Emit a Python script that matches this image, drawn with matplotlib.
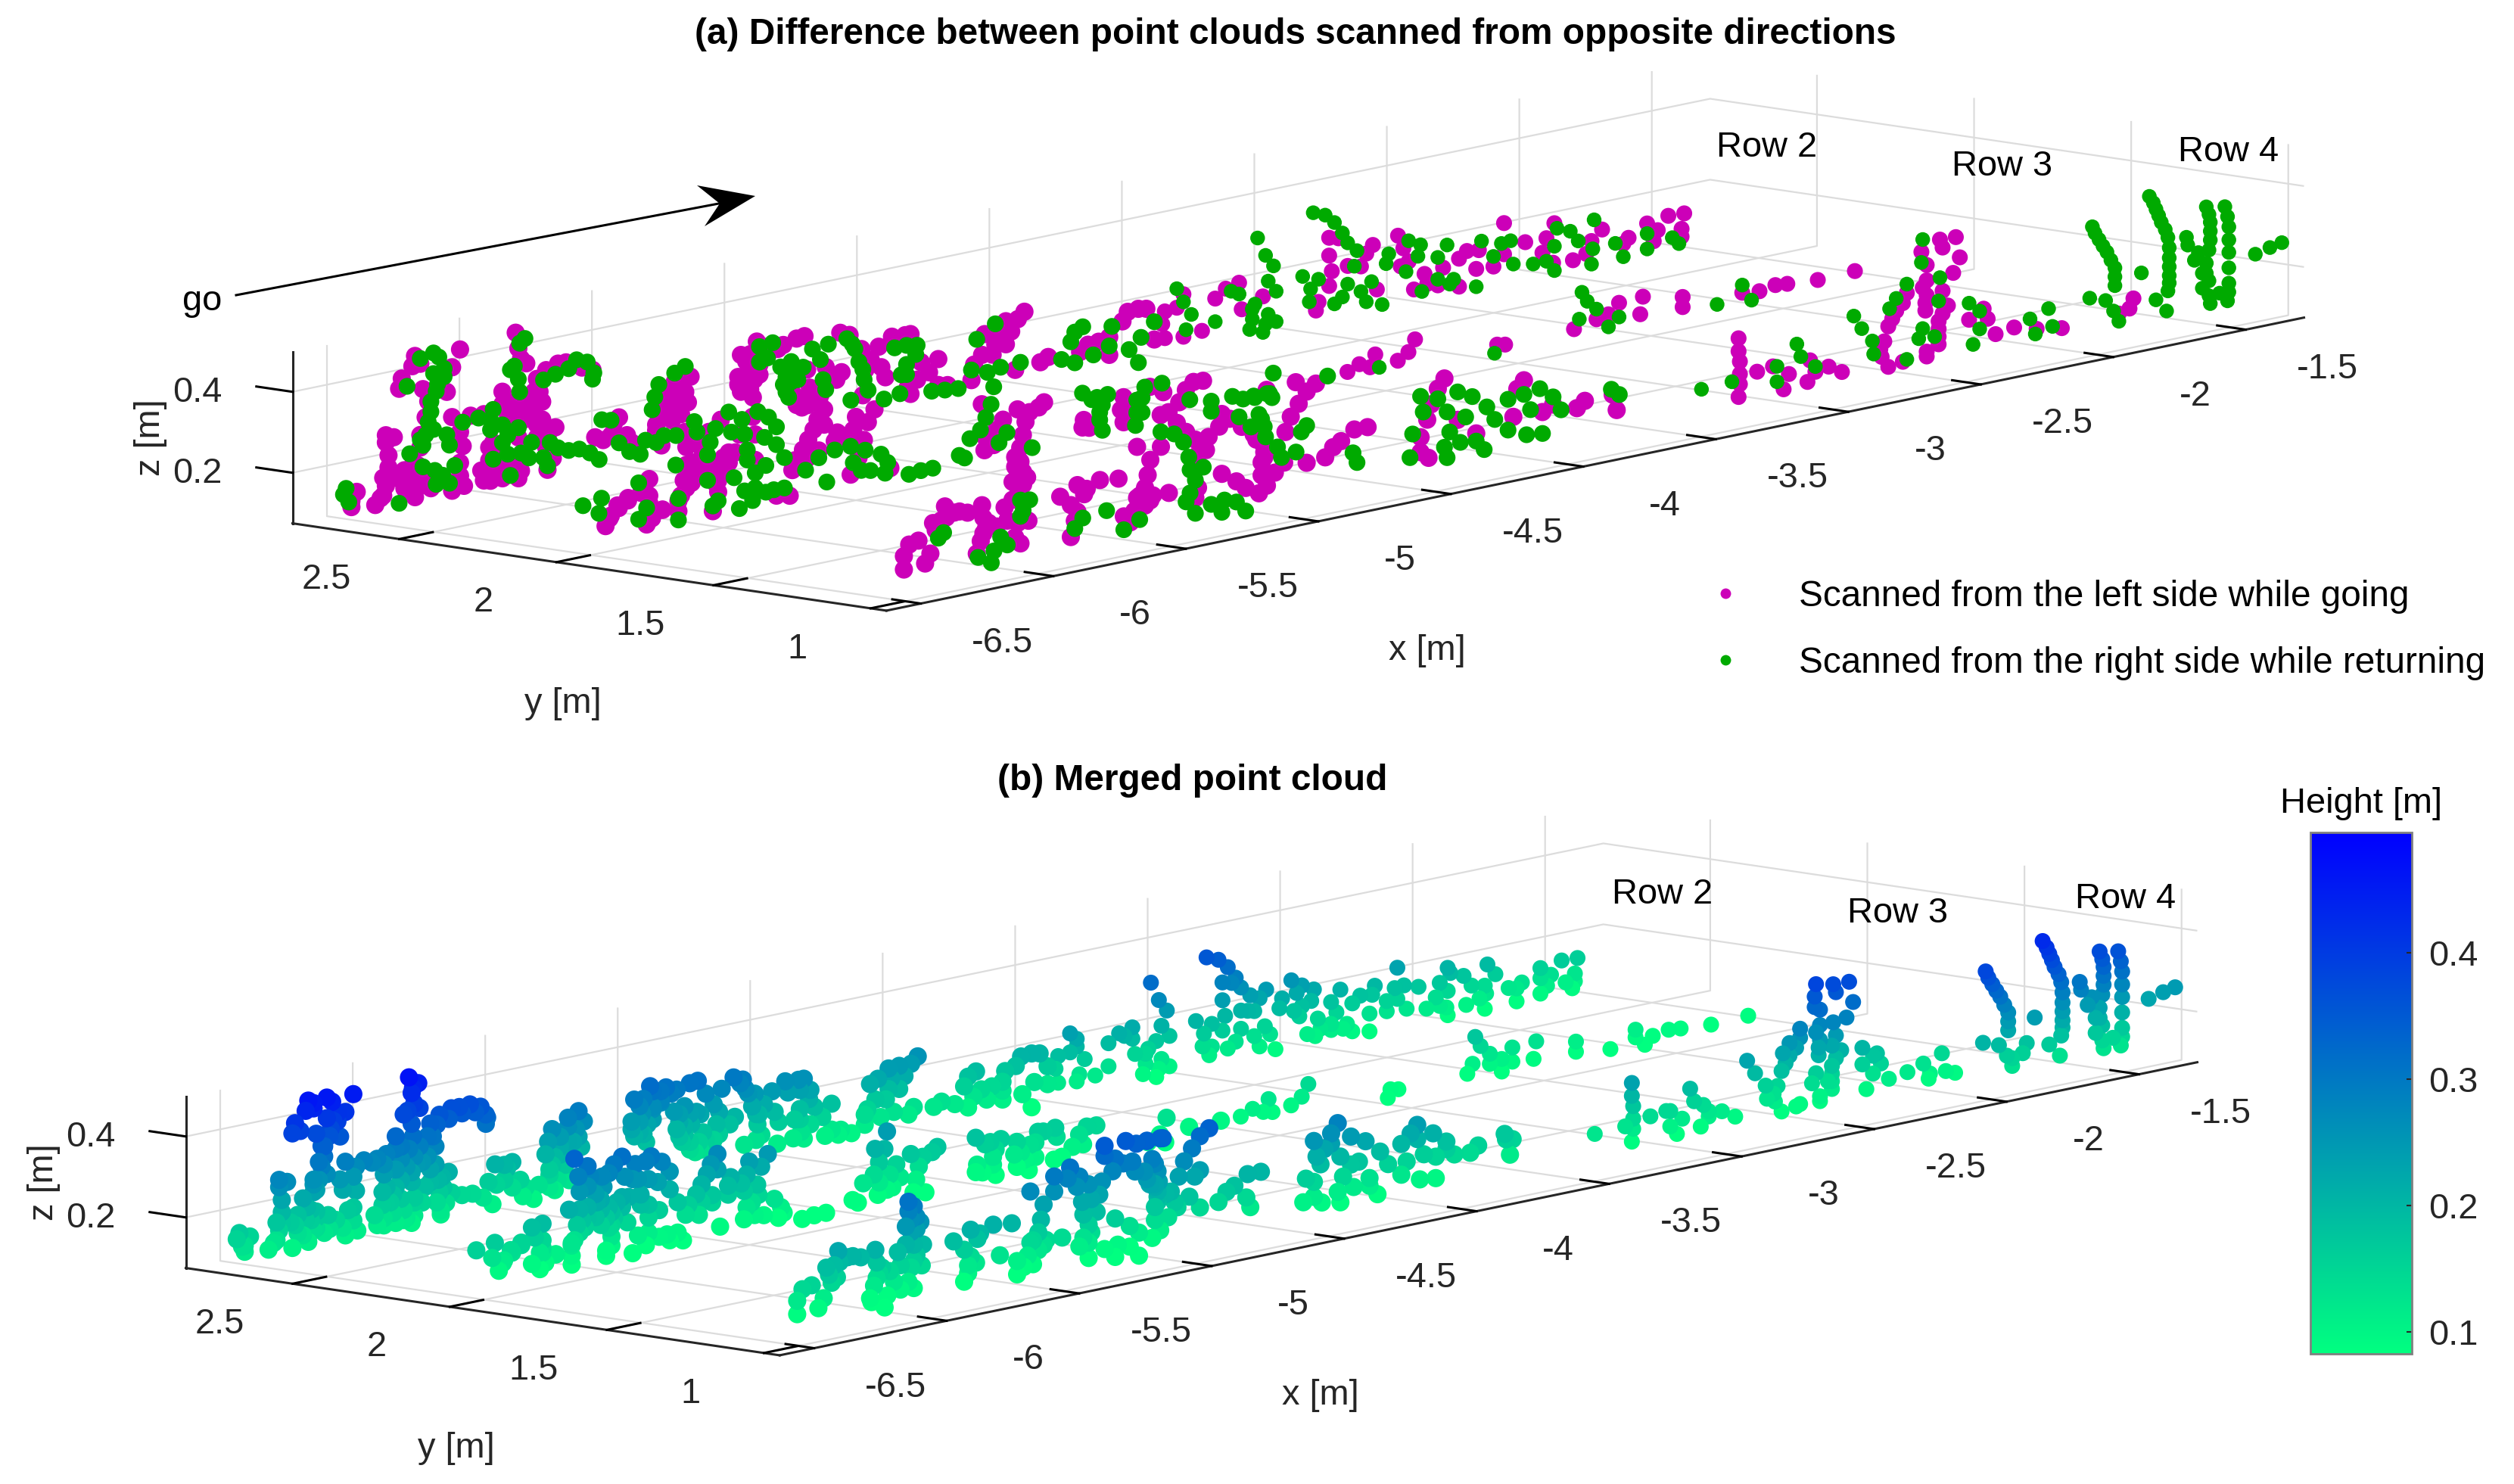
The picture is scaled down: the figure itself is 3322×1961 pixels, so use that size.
#!/usr/bin/env python3
"""Point clouds of three crop rows scanned from opposite directions, and merged."""

import matplotlib
matplotlib.use("Agg")
import matplotlib.pyplot as plt
import numpy as np
from matplotlib.lines import Line2D
from matplotlib.patches import Polygon

plt.rcParams["font.family"] = ["Liberation Sans", "DejaVu Sans"]

W, H = 3322, 1961
FS = 33.8
MAGENTA = "#cc00b8"
GREEN = "#00aa00"
DARK = "#262626"

# crop row positions along y [m]
row2_y = 2.72
row3_y = 2.16
row4_y = 1.24
row4_far_y = 1.05

# (x, z) of points, per crop row and scan direction
left_row2 = [
    (-6.55, .133), (-6.55, .118), (-6.53, .153), (-6.46, .111), (-6.43, .130), (-6.42, .153), (-6.43, .174),
    (-6.41, .197), (-6.41, .227), (-6.42, .260), (-6.42, .278), (-6.39, .269), (-6.36, .158), (-6.33, .129),
    (-6.32, .166), (-6.315, .196), (-6.29, .136), (-6.31, .110), (-6.25, .124), (-6.28, .165), (-6.29, .230),
    (-6.29, .261), (-6.27, .302), (-6.26, .340), (-6.28, .373), (-6.32, .435), (-6.29, .437), (-6.31, .459),
    (-6.36, .410), (-6.37, .386), (-6.17, .412), (-6.19, .354), (-6.14, .452), (-6.17, .289), (-6.14, .248),
    (-6.13, .212), (-6.14, .172), (-6.14, .140), (-6.125, .113), (-6.17, .107), (-6.10, .283), (-6.05, .280),
    (-5.93, .465), (-5.92, .425), (-5.91, .398), (-5.89, .384), (-5.98, .326), (-5.98, .295), (-5.96, .267),
    (-5.93, .288), (-5.89, .289), (-5.86, .310), (-5.86, .260), (-5.83, .281), (-5.90, .246), (-5.85, .227),
    (-5.82, .197), (-5.78, .211), (-5.815, .166), (-5.79, .136), (-5.81, .110), (-5.85, .340), (-5.815, .357),
    (-5.77, .367), (-5.74, .366), (-5.68, .345), (-5.64, .334), (-6.015, .205), (-5.99, .183), (-6.03, .163),
    (-6.05, .116), (-5.99, .138), (-6.025, .130), (-5.95, .140), (-5.92, .104), (-5.91, .153), (-5.92, .205),
    (-5.63, .166), (-5.60, .155), (-5.57, .163), (-5.54, .203), (-5.56, .190), (-5.51, .155), (-5.49, .133),
    (-5.33, .262), (-5.27, .267), (-5.29, .232), (-5.33, .224), (-5.28, .205), (-5.36, .197), (-5.31, .191),
    (-5.39, .175), (-5.34, .169), (-5.40, .152), (-5.38, .112),
    (-5.08, .295), (-5.045, .292), (-5.02, .320), (-4.98, .302), (-4.92, .298), (-4.87, .307), (-4.84, .309),
    (-5.09, .242), (-5.05, .256), (-5.01, .262), (-5.06, .213), (-5.08, .204), (-5.03, .227), (-5.035, .184),
    (-4.87, .162), (-4.835, .157), (-4.85, .134), (-4.81, .159), (-4.78, .130), (-4.83, .225), (-4.76, .222),
    (-4.72, .185), (-4.70, .201), (-4.705, .299), (-4.67, .289), (-4.625, .248), (-4.61, .195), (-4.55, .193),
    (-4.535, .166), (-4.59, .217), (-4.56, .245), (-4.51, .263), (-4.46, .260), (-4.44, .260), (-4.62, .133),
    (-4.40, .185), (-4.37, .156), (-4.415, .144), (-4.44, .112), (-4.45, .130), (-4.335, .184), (-4.335, .120),
    (-4.30, .115),
    (-4.01, .257), (-4.035, .242), (-4.08, .243), (-4.06, .215), (-4.11, .216), (-4.16, .222), (-4.12, .191),
    (-4.08, .186), (-4.17, .172), (-4.13, .167), (-4.20, .152), (-4.21, .115), (-4.045, .118), (-3.95, .124),
    (-3.92, .133), (-3.77, .143), (-3.80, .129), (-3.69, .107), (-3.69, .151), (-3.73, .145), (-3.64, .183),
    (-3.62, .204), (-3.58, .206), (-3.55, .202), (-3.48, .186), (-3.49, .156), (-3.435, .189), (-3.52, .122),
    (-3.48, .120), (-3.41, .219), (-3.41, .114), (-3.34, .119), (-3.29, .192), (-3.25, .211), (-3.20, .219),
    (-3.11, .173), (-3.19, .152),
    (-2.86, .284), (-2.86, .240), (-2.85, .200), (-2.86, .165), (-2.90, .131), (-2.91, .111), (-2.79, .205),
    (-2.72, .226), (-2.695, .244), (-2.74, .197), (-2.825, .278), (-2.68, .132), (-2.60, .254), (-2.58, .220),
    (-2.56, .185), (-2.59, .177), (-2.50, .146), (-2.54, .113), (-2.49, .120), (-2.43, .152), (-2.37, .166),
    (-2.34, .181), (-2.295, .177), (-2.305, .132), (-2.45, .111), (-2.37, .097), (-2.20, .231), (-2.20, .154),
    (-2.24, .129), (-2.12, .173), (-2.04, .172), (-2.01, .205), (-2.055, .138), (-2.015, .108), (-1.94, .104),
    (-1.89, .113), (-1.87, .142), (-1.83, .165), (-1.75, .119), (-1.73, .131), (-1.66, .157), (-1.62, .135),
    (-1.635, .110), (-1.58, .165), (-1.52, .163), (-1.53, .126), (-1.53, .107),
    (-6.44, .125), (-6.41, .170), (-6.377, .167), (-6.35, .182), (-6.35, .137), (-6.30, .162), (-6.30, .188),
    (-6.28, .140), (-6.235, .132), (-5.96, .298), (-5.91, .266), (-5.94, .245), (-5.88, .249), (-5.83, .237),
    (-5.805, .202), (-5.85, .195), (-5.84, .307), (-6.03, .195), (-6.00, .166), (-6.06, .142), (-6.025, .112),
    (-5.98, .112), (-5.94, .119), (-5.91, .121), (-5.36, .241), (-5.30, .252), (-5.31, .222), (-5.36, .216),
    (-5.38, .194), (-5.40, .166), (-5.06, .276), (-5.06, .238), (-5.09, .223), (-5.045, .205), (-5.01, .237),
    (-4.98, .280), (-4.94, .291), (-4.89, .184), (-4.82, .179), (-4.87, .143), (-4.83, .137), (-4.78, .155),
]
right_row2 = [
    (-6.58, .153), (-6.57, .167), (-6.56, .132), (-6.37, .103), (-6.34, .388), (-6.24, .457), (-6.29, .450),
    (-6.22, .444), (-6.215, .396), (-6.20, .393), (-6.23, .361), (-6.225, .378), (-6.26, .289), (-6.27, .258),
    (-6.28, .234), (-6.24, .268), (-6.33, .220), (-6.28, .181), (-6.19, .248), (-6.18, .221), (-6.235, .166),
    (-6.205, .150), (-6.18, .127), (-6.16, .168), (-6.23, .131), (-6.13, .271), (-6.07, .273), (-6.025, .263),
    (-6.015, .287), (-5.98, .244), (-5.96, .216), (-5.92, .229), (-5.98, .200), (-6.025, .238), (-6.015, .164),
    (-5.96, .169), (-5.95, .115), (-5.91, .165), (-5.88, .149), (-5.87, .186), (-5.825, .142), (-5.81, .120),
    (-5.80, .176), (-5.77, .159), (-5.915, .437), (-5.895, .446), (-5.935, .383), (-5.95, .376), (-5.92, .349),
    (-5.915, .317), (-5.825, .334), (-5.78, .342), (-5.73, .349), (-5.70, .367), (-5.66, .356), (-5.635, .326),
    (-5.64, .311), (-5.73, .147), (-5.69, .145), (-5.65, .130), (-5.615, .109), (-5.605, .206), (-5.57, .200),
    (-5.54, .140), (-5.50, .113), (-5.46, .101), (-5.29, .295), (-5.33, .284), (-5.39, .264), (-5.405, .235),
    (-5.415, .205), (-5.44, .133), (-5.40, .122), (-5.37, .135), (-5.325, .129),
    (-4.98, .274), (-5.01, .268), (-4.96, .309), (-5.01, .306), (-4.93, .245), (-4.89, .253), (-4.845, .233),
    (-4.91, .217), (-4.865, .205), (-4.91, .180), (-4.81, .273), (-4.78, .243), (-4.77, .192), (-4.76, .166),
    (-4.75, .277), (-4.68, .281), (-4.65, .252), (-4.635, .218), (-4.615, .171), (-4.60, .143), (-4.665, .127),
    (-4.50, .234), (-4.455, .234), (-4.415, .229), (-4.42, .207), (-4.455, .187), (-4.475, .164), (-4.48, .118),
    (-4.54, .113), (-4.36, .108), (-4.31, .104), (-4.26, .101),
    (-4.19, .213), (-4.12, .242), (-4.21, .140), (-4.15, .126), (-4.10, .132), (-4.025, .134), (-3.82, .181),
    (-3.79, .190), (-3.835, .159), (-3.87, .120), (-3.82, .105), (-3.75, .115), (-3.69, .129), (-3.615, .110),
    (-3.58, .073), (-3.68, .176), (-3.57, .134), (-3.52, .166), (-3.435, .236), (-3.41, .200), (-3.38, .165),
    (-3.40, .130), (-3.29, .135), (-3.20, .191), (-3.15, .147), (-3.10, .103), (-3.23, .202), (-3.06, .179),
    (-3.13, .320), (-3.10, .273), (-3.07, .243), (-3.09, .208), (-3.14, .158), (-3.09, .126),
    (-3.06, .104), (-3.11, .084), (-3.15, .122), (-3.16, .098), (-2.92, .354), (-2.875, .342), (-2.84, .319),
    (-2.81, .289), (-2.79, .262), (-2.96, .202), (-2.93, .167), (-2.935, .136), (-2.90, .187), (-2.755, .238),
    (-2.765, .201), (-2.79, .160), (-2.81, .131), (-2.84, .118), (-2.74, .135), (-2.70, .154), (-2.72, .107),
    (-2.66, .092), (-2.645, .191), (-2.635, .214), (-2.56, .236), (-2.525, .193), (-2.515, .220), (-2.57, .161),
    (-2.51, .104), (-2.45, .126), (-2.39, .118), (-2.405, .108), (-2.305, .088), (-2.415, .206), (-2.45, .180),
    (-2.285, .198), (-2.24, .154), (-2.21, .182), (-2.175, .184), (-2.165, .125), (-2.09, .115), (-2.00, .191),
    (-2.01, .148), (-2.04, .115), (-2.01, .088), (-1.95, .177), (-1.92, .149), (-1.86, .193), (-1.865, .122),
    (-1.87, .085), (-1.78, .124), (-1.75, .087), (-1.66, .132), (-1.66, .094), (-1.565, .109), (-1.54, .091),
    (-6.24, .406), (-6.20, .413), (-6.25, .338), (-6.25, .313), (-6.29, .249), (-4.91, .236), (-4.87, .231),
    (-4.89, .203), (-4.92, .200), (-4.90, .166), (-4.66, .265), (-4.62, .197), (-4.455, .162),
]
left_row3 = [
    (-6.255, .095), (-6.235, .118), (-6.205, .133), (-6.17, .147), (-6.12, .159), (-6.09, .148), (-6.09, .117),
    (-6.08, .091), (-6.10, .078), (-6.04, .107), (-6.09, .189),
    (-5.98, .095), (-5.98, .120), (-5.95, .148), (-5.94, .178), (-5.93, .208), (-5.95, .249), (-5.955, .287),
    (-5.97, .333), (-5.89, .178), (-5.885, .214), (-5.865, .275), (-5.83, .182), (-5.83, .150), (-5.83, .122),
    (-5.79, .189), (-5.765, .211), (-5.85, .077), (-6.04, .106), (-5.82, .299), (-5.70, .290), (-5.69, .245),
    (-5.69, .182), (-5.75, .253), (-5.56, .076), (-5.61, .083), (-5.55, .138), (-5.54, .161), (-5.51, .183),
    (-5.49, .205), (-5.47, .227), (-5.455, .250), (-5.43, .272), (-5.43, .234), (-5.49, .161), (-5.45, .173),
    (-5.39, .188), (-5.34, .187), (-5.28, .176), (-5.38, .208), (-5.32, .206), (-5.31, .237), (-5.265, .218),
    (-5.24, .246), (-5.30, .135), (-5.33, .097), (-5.18, .093),
    (-4.825, .089), (-4.82, .119), (-4.78, .133), (-4.755, .155), (-4.835, .204), (-4.79, .097), (-4.69, .077),
    (-4.68, .107), (-4.67, .138), (-4.70, .173), (-4.655, .160), (-4.62, .167), (-4.60, .177), (-4.455, .095),
    (-4.43, .091), (-4.45, .113), (-4.30, .149), (-4.30, .087), (-4.285, .121), (-4.15, .141), (-4.16, .086),
    (-4.13, .089), (-4.09, .108), (-4.065, .135), (-4.036, .151), (-4.00, .149), (-4.20, .161),
    (-3.455, .097), (-3.41, .110), (-3.37, .097), (-3.35, .126), (-3.265, .099), (-3.225, .115), (-3.20, .143),
    (-3.65, .098), (-3.76, .094), (-2.89, .088), (-2.86, .084), (-2.60, .087), (-2.515, .100), (-2.47, .106),
    (-2.43, .129), (-2.34, .132), (-2.35, .090), (-2.19, .111), (-2.19, .086), (-1.965, .091), (-1.90, .086),
    (-1.84, .093), (-1.795, .090), (-1.68, .084), (-1.54, .087),
    (-5.95, .205), (-5.92, .207), (-5.92, .182), (-5.96, .168), (-5.93, .158), (-5.97, .132), (-5.87, .194),
    (-5.84, .196), (-5.81, .204), (-5.79, .214), (-5.82, .167), (-5.85, .171), (-5.84, .145), (-5.92, .258),
    (-5.89, .235), (-6.24, .112), (-6.21, .140), (-6.17, .153), (-6.12, .159), (-6.09, .130), (-6.08, .091),
    (-4.31, .119), (-4.27, .101),
]
right_row3 = [
    (-6.34, .157), (-6.27, .166), (-6.28, .130), (-6.13, .185), (-6.10, .119), (-6.13, .095),
    (-5.99, .210), (-5.98, .126), (-5.98, .073), (-5.87, .219), (-5.86, .249), (-5.92, .308), (-5.91, .281),
    (-5.84, .280), (-5.79, .314), (-5.74, .289), (-5.78, .263), (-5.73, .251), (-5.72, .211), (-5.72, .186),
    (-5.68, .300), (-5.64, .281), (-5.61, .253), (-5.655, .233), (-5.61, .209), (-5.58, .173), (-5.69, .150),
    (-5.69, .113), (-5.65, .163), (-5.77, .149), (-5.73, .111), (-5.70, .083), (-5.75, .070), (-5.87, .156),
    (-5.83, .100), (-5.85, .090), (-5.62, .099), (-5.58, .098), (-5.65, .097), (-5.42, .091), (-5.50, .131),
    (-5.45, .155), (-5.39, .166), (-5.33, .167), (-5.275, .150), (-5.215, .132), (-5.19, .108), (-5.20, .083),
    (-5.32, .125), (-5.29, .102), (-5.255, .097), (-5.11, .068), (-5.065, .071), (-5.02, .071), (-4.92, .089),
    (-4.84, .141), (-4.82, .169), (-4.80, .199), (-4.79, .241), (-4.88, .125), (-4.90, .080), (-4.77, .100),
    (-4.74, .121), (-4.645, .071), (-4.455, .180), (-4.40, .162), (-4.39, .124), (-4.38, .078), (-4.36, .164),
    (-4.25, .135), (-4.255, .073), (-4.23, .102), (-4.22, .163), (-4.155, .164), (-4.05, .109),
    (-3.735, .132), (-3.805, .081), (-3.74, .072), (-3.53, .097), (-3.335, .092), (-2.90, .068), (-2.57, .174),
    (-2.55, .149), (-2.515, .125), (-2.58, .109), (-2.47, .075), (-2.43, .094), (-2.06, .075), (-1.965, .110),
    (-1.93, .068),
    (-4.42, .159), (-4.38, .141), (-4.39, .105), (-4.25, .104), (-4.23, .138),
]
left_row4 = [
    (-6.22, .088), (-6.22, .121), (-6.20, .147), (-6.165, .152), (-6.14, .092), (-6.12, .114), (-6.10, .169),
    (-6.08, .190), (-6.065, .223), (-6.03, .203), (-5.98, .196), (-5.925, .207), (-5.92, .175), (-5.91, .148),
    (-5.93, .119), (-5.945, .090), (-5.87, .147), (-5.83, .156), (-5.84, .190), (-5.81, .205), (-5.79, .145),
    (-5.75, .145), (-5.79, .233), (-5.79, .264), (-5.78, .295), (-5.80, .309), (-5.755, .253), (-5.80, .111),
    (-5.78, .093), (-5.565, .208), (-5.53, .194), (-5.48, .209), (-5.41, .203), (-5.54, .182), (-5.63, .188),
    (-5.59, .162), (-5.565, .142), (-5.575, .121), (-5.59, .083), (-5.34, .272), (-5.25, .260), (-5.29, .233),
    (-5.30, .197), (-5.31, .167), (-5.34, .146), (-5.29, .133), (-5.35, .115), (-5.39, .107), (-5.365, .089),
    (-5.22, .142), (-5.19, .311), (-5.155, .284), (-5.12, .260), (-5.11, .222), (-5.11, .190), (-5.11, .140),
    (-5.12, .116), (-5.08, .229), (-5.07, .260), (-5.03, .280), (-4.99, .294), (-5.02, .310), (-4.945, .268),
    (-4.90, .243), (-4.87, .220), (-4.86, .181), (-4.83, .196), (-5.02, .162), (-4.965, .136), (-4.93, .115),
    (-4.88, .095), (-4.85, .110), (-4.87, .138), (-4.82, .138),
    (-4.87, .227), (-4.86, .194), (-4.87, .170), (-4.78, .233), (-4.76, .268), (-4.73, .296), (-4.70, .322),
    (-4.665, .337), (-4.785, .158), (-4.70, .146), (-4.63, .150), (-4.60, .171), (-4.57, .182), (-4.52, .204),
    (-4.47, .203), (-4.27, .114), (-4.27, .151), (-4.245, .191), (-4.23, .227), (-4.205, .262), (-4.18, .284),
    (-4.24, .096), (-4.13, .175), (-4.06, .132), (-3.92, .154), (-3.905, .221), (-3.88, .239), (-3.81, .151),
    (-3.77, .164), (-3.68, .143), (-3.65, .157), (-3.545, .158), (-3.53, .118),
    (-3.07, .233), (-3.07, .201), (-3.065, .175), (-3.07, .088), (-3.065, .119), (-3.065, .144), (-3.00, .141),
    (-2.94, .146), (-2.88, .119), (-2.90, .084), (-2.81, .090), (-2.78, .111), (-2.80, .142), (-2.73, .117),
    (-2.68, .097), (-2.505, .086), (-2.45, .091), (-2.53, .114), (-2.52, .151), (-2.505, .186), (-2.475, .220),
    (-2.435, .259), (-2.38, .353), (-2.36, .318), (-2.36, .280), (-2.36, .243), (-2.365, .206), (-2.31, .374),
    (-2.25, .372), (-2.30, .353), (-2.235, .320), (-2.26, .285), (-2.30, .246), (-2.30, .190), (-2.315, .154),
    (-2.315, .116), (-2.36, .104), (-2.36, .092), (-2.145, .181), (-2.13, .154), (-2.10, .112), (-2.20, .161),
    (-2.03, .119), (-1.945, .104), (-1.85, .093),
    (-5.90, .160), (-5.92, .137), (-5.80, .285), (-5.77, .268), (-5.81, .249), (-5.77, .237), (-6.01, .203),
    (-6.06, .195), (-6.11, .188), (-4.89, .229), (-4.86, .207), (-5.33, .150), (-5.31, .123), (-5.28, .144),
    (-2.375, .264), (-2.365, .225), (-2.315, .173), (-2.315, .135), (-2.28, .207), (-2.49, .203), (-2.45, .236),
    (-2.535, .134),
]
right_row4 = [
    (-6.09, .148), (-6.07, .159), (-5.94, .080), (-5.88, .088), (-5.89, .060), (-5.855, .119), (-5.83, .096),
    (-5.78, .200), (-5.77, .173), (-5.78, .160), (-5.745, .196), (-5.545, .124), (-5.575, .102), (-5.455, .130),
    (-5.39, .074), (-5.33, .091), (-5.25, .297), (-5.20, .285), (-5.165, .260), (-5.145, .220), (-5.14, .188),
    (-5.09, .188), (-5.12, .160), (-5.14, .131), (-5.155, .111), (-5.12, .078), (-5.06, .092), (-5.01, .096),
    (-4.965, .085), (-4.93, .058), (-5.02, .067), (-5.06, .347), (-5.06, .322), (-4.98, .348), (-4.94, .336),
    (-4.90, .337), (-4.88, .290), (-4.86, .257), (-4.955, .294), (-4.85, .337),
    (-4.90, .338), (-4.91, .263), (-4.87, .277), (-4.855, .231), (-4.81, .200), (-4.84, .336), (-4.74, .178),
    (-4.72, .225), (-4.795, .172), (-4.70, .238), (-4.525, .147), (-4.51, .121), (-4.27, .252), (-4.26, .212),
    (-4.30, .163), (-4.31, .106), (-4.205, .237), (-4.17, .200), (-4.16, .149), (-4.18, .114), (-4.13, .244),
    (-4.075, .225), (-4.02, .192), (-3.99, .157), (-4.10, .178), (-4.12, .118), (-4.06, .113), (-4.03, .088),
    (-4.17, .087), (-3.94, .124), (-3.94, .200), (-3.88, .204), (-3.82, .210), (-3.77, .183), (-3.74, .147),
    (-3.855, .163), (-3.87, .103), (-3.81, .098), (-3.55, .172), (-3.52, .155),
    (-3.21, .126), (-3.095, .129), (-2.925, .144), (-2.925, .106), (-2.85, .189), (-2.835, .156), (-2.78, .124),
    (-2.635, .229), (-2.605, .194), (-2.565, .158), (-2.56, .125), (-2.50, .229), (-2.435, .281), (-2.475, .251),
    (-2.435, .095), (-2.375, .383), (-2.38, .327), (-2.31, .280), (-2.315, .223), (-2.375, .163), (-2.39, .140),
    (-2.33, .137), (-2.20, .202), (-2.16, .177), (-2.16, .133), (-2.185, .098), (-1.97, .132), (-1.90, .148),
    (-1.885, .102), (-1.95, .092),
]
left_row4_far = [(-1.86, .152), (-1.805, .182), (-1.82, .159)]
right_row4_far = [
    (-1.96, .380), (-1.935, .345), (-1.905, .310), (-1.875, .267), (-1.875, .223), (-1.97, .205), (-1.91, .191),
    (-1.86, .133), (-1.88, .161), (-1.775, .241), (-1.745, .426), (-1.72, .391), (-1.70, .356), (-1.675, .315),
    (-1.67, .264), (-1.67, .220), (-1.675, .183), (-1.72, .167), (-1.68, .134), (-1.605, .306), (-1.56, .262),
    (-1.53, .371), (-1.515, .331), (-1.515, .287), (-1.53, .207), (-1.545, .172), (-1.515, .130), (-1.46, .362),
    (-1.445, .310), (-1.445, .247), (-1.445, .171), (-1.45, .128), (-1.48, .151), (-1.345, .229), (-1.29, .238),
    (-1.245, .244),
    (-1.95, .363), (-1.92, .327), (-1.89, .288), (-1.875, .245), (-1.73, .408), (-1.71, .374), (-1.685, .336),
    (-1.67, .289), (-1.67, .242), (-1.67, .202), (-1.52, .351), (-1.515, .309), (-1.52, .263), (-1.53, .232),
    (-1.52, .187), (-1.52, .150), (-1.45, .336), (-1.445, .278), (-1.445, .209), (-1.445, .149), (-1.60, .286),
    (-1.575, .245), (-1.545, .209),
]

x_ticks = [-6.5, -6, -5.5, -5, -4.5, -4, -3.5, -3, -2.5, -2, -1.5]
x_tick_labels = ["-6.5", "-6", "-5.5", "-5", "-4.5", "-4", "-3.5", "-3", "-2.5", "-2", "-1.5"]
y_ticks = [1, 1.5, 2, 2.5]
y_tick_labels = ["1", "1.5", "2", "2.5"]
z_ticks = [0.2, 0.4]
z_tick_labels = ["0.2", "0.4"]
height_ticks = [0.1, 0.2, 0.3, 0.4]
x_lim = (-6.63, -1.28)
y_lim = (0.95, 2.84)
z_lim = (0.075, 0.498)
height_lim = (0.0826, 0.495)


def stack(groups):
    out = []
    for points, y in groups:
        arr = np.array(points)
        out.append(np.column_stack([arr[:, 0], np.full(len(arr), y), arr[:, 1]]))
    return np.vstack(out)


def point_sizes(pts, scale=1.0):
    # the far end of the rows is scanned thinner, so the strands look narrower
    return np.where(pts[:, 0] < -3.5, 300, 230) * scale


def px_text(x, y, s, **kw):
    kw.setdefault("ha", "center")
    kw.setdefault("va", "center")
    kw.setdefault("fontsize", FS)
    kw.setdefault("color", "black")
    return fig.text(x / W, 1 - (y + 4) / H, s, **kw)


def make_axes(cx, cy):
    side = 3000
    frac = 0.095 / 0.185
    ax = fig.add_axes(
        [(cx - frac * side) / W, (H - cy - frac * side) / H, side / W, side / H],
        projection="3d",
        proj_type="ortho",
    )
    ax.patch.set_alpha(0)
    ax.view_init(elev=10.04, azim=220.14)
    ax.set_box_aspect((x_lim[1] - x_lim[0], y_lim[1] - y_lim[0], z_lim[1] - z_lim[0]))
    ax.set_xlim(*x_lim, view_margin=0)
    ax.set_ylim(*y_lim, view_margin=0)
    ax.set_zlim(*z_lim, view_margin=0)
    ax.set_xticks(x_ticks, x_tick_labels)
    ax.set_yticks(y_ticks, y_tick_labels)
    ax.set_zticks(z_ticks, z_tick_labels)
    ax.computed_zorder = False
    # z ticks run along y, as in the original
    ax.zaxis._get_tickdir = lambda pos: 1
    ax.tick_params(axis="x", labelsize=FS, labelcolor=DARK, pad=147)
    ax.tick_params(axis="y", labelsize=FS, labelcolor=DARK, pad=50)
    ax.tick_params(axis="z", labelsize=FS, labelcolor=DARK, pad=45)
    for t in ax.get_xticklabels():
        t.set_va("center_baseline")
    for t in ax.get_zticklabels():
        t.set_va("baseline")
    for axis, out in ((ax.xaxis, 0.6), (ax.yaxis, 0.295), (ax.zaxis, 0.76)):
        axis.pane.set_alpha(0)
        axis.pane.set_edgecolor("none")
        axis.line.set_color(DARK)
        axis.line.set_linewidth(2.2)
        axis._axinfo["grid"].update(color="#dcdcdc", linewidth=1.6)
        axis._axinfo["tick"].update(
            inward_factor=0, outward_factor=out, linewidth={True: 2.2, False: 2.2}, color=DARK
        )
    return ax


left_pts = stack([(left_row2, row2_y), (left_row3, row3_y), (left_row4, row4_y), (left_row4_far, row4_far_y)])
right_pts = stack([(right_row2, row2_y), (right_row3, row3_y), (right_row4, row4_y), (right_row4_far, row4_far_y)])
merged = np.vstack([left_pts, right_pts])

fig = plt.figure(figsize=(W / 100, H / 100), dpi=100)

# panel a
ax_a = make_axes(1715.5, 442.5)
ax_a.scatter(*left_pts.T, s=point_sizes(left_pts), c=MAGENTA, marker="o", linewidths=0, depthshade=False, zorder=3)
ax_a.scatter(*right_pts.T, s=point_sizes(right_pts, 0.85), c=GREEN, marker="o", linewidths=0, depthshade=False, zorder=4)

# panel b
ax_b = make_axes(1574.5, 1426.5)
sc = ax_b.scatter(*merged.T, s=point_sizes(merged), c=merged[:, 2], cmap="winter_r", vmin=height_lim[0], vmax=height_lim[1],
                  marker="o", linewidths=0, depthshade=False, zorder=3)

# text
px_text(1712, 42, "(a) Difference between point clouds scanned from opposite directions", fontweight="bold", fontsize=34.4)
px_text(1576, 1028, "(b) Merged point cloud", fontweight="bold", fontsize=34.4)
for dx, dy in ((0, 0), (-141, 984)):
    px_text(1886 + dx, 856 + dy, "x [m]", color=DARK)
    px_text(744 + dx, 926 + dy, "y [m]", color=DARK)
    px_text(199 + dx, 574 + dy, "z [m]", rotation=90, color=DARK)
for x, y, s in ((2335, 191, "Row 2"), (2646, 216, "Row 3"), (2945, 197, "Row 4"),
                (2197, 1178, "Row 2"), (2508, 1203, "Row 3"), (2809, 1184, "Row 4")):
    px_text(x, y, s)
px_text(267, 394, "go")

# direction arrow
fig.add_artist(Line2D([312 / W, 955 / W], [1 - 390 / H, 1 - 268 / H], color="black", lw=2.2))
fig.add_artist(Polygon(
    [(998 / W, 1 - 259 / H), (921 / W, 1 - 245 / H), (951 / W, 1 - 269 / H), (931 / W, 1 - 299 / H)],
    closed=True, facecolor="black", edgecolor="none", transform=fig.transFigure,
))

# legend
handles = [
    Line2D([], [], ls="none", marker="o", ms=10, mfc=MAGENTA, mec="none"),
    Line2D([], [], ls="none", marker="o", ms=10, mfc=GREEN, mec="none"),
]
fig.legend(handles, ["Scanned from the left side while going", "Scanned from the right side while returning"],
           loc="upper left", bbox_to_anchor=(2256 / W, 1 - 766 / H), frameon=False, fontsize=34.4,
           labelspacing=0.9, handletextpad=1.53, handlelength=1.0, borderpad=0, borderaxespad=0)

# colorbar
cax = fig.add_axes([3053 / W, 1 - 1789 / H, 134 / W, 689 / H])
cbar = fig.colorbar(sc, cax=cax, ticks=height_ticks)
cbar.ax.set_yticklabels([f"{t:.1f}" for t in height_ticks], fontsize=FS, color=DARK)
cbar.ax.tick_params(direction="in", length=5, width=1.5, color=DARK, pad=16)
cbar.outline.set_edgecolor("#808080")
cbar.outline.set_linewidth(2)
px_text(3120, 1058, "Height [m]")

fig.savefig("out.png", dpi=100)
